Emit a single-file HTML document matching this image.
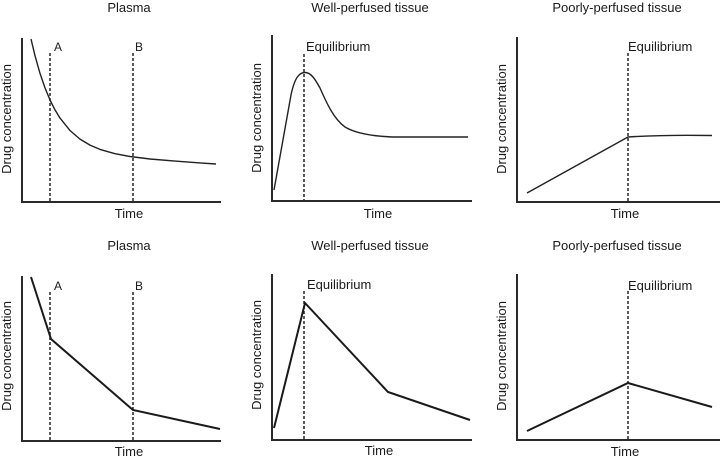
<!DOCTYPE html>
<html><head><meta charset="utf-8"><style>
html,body{margin:0;padding:0;background:#fff;}
svg{display:block;}
text{font-family:"Liberation Sans",Arial,sans-serif;fill:#1a1a1a;}
</style></head><body>
<svg width="720" height="459" viewBox="0 0 720 459" xmlns="http://www.w3.org/2000/svg">
<g font-size="13">
  <!-- Titles -->
  <text x="129" y="12" text-anchor="middle">Plasma</text>
  <text x="370" y="12" text-anchor="middle">Well-perfused tissue</text>
  <text x="617" y="12" text-anchor="middle">Poorly-perfused tissue</text>
  <text x="129" y="250" text-anchor="middle">Plasma</text>
  <text x="370" y="250" text-anchor="middle">Well-perfused tissue</text>
  <text x="617" y="250" text-anchor="middle">Poorly-perfused tissue</text>
  <!-- Time labels -->
  <text x="129" y="218" text-anchor="middle">Time</text>
  <text x="378" y="218" text-anchor="middle">Time</text>
  <text x="625" y="218" text-anchor="middle">Time</text>
  <text x="129" y="456" text-anchor="middle">Time</text>
  <text x="379" y="455" text-anchor="middle">Time</text>
  <text x="625" y="456" text-anchor="middle">Time</text>
  <!-- Y labels -->
  <text transform="translate(11,119) rotate(-90)" text-anchor="middle">Drug concentration</text>
  <text transform="translate(261,118) rotate(-90)" text-anchor="middle">Drug concentration</text>
  <text transform="translate(506,119) rotate(-90)" text-anchor="middle">Drug concentration</text>
  <text transform="translate(11,356) rotate(-90)" text-anchor="middle">Drug concentration</text>
  <text transform="translate(261,355) rotate(-90)" text-anchor="middle">Drug concentration</text>
  <text transform="translate(506,356) rotate(-90)" text-anchor="middle">Drug concentration</text>
  <!-- Equilibrium -->
  <text x="306" y="51">Equilibrium</text>
  <text x="628" y="51">Equilibrium</text>
  <text x="307" y="289">Equilibrium</text>
  <text x="628" y="290">Equilibrium</text>
</g>
<g font-size="12" text-anchor="middle">
  <text x="58" y="51">A</text>
  <text x="139" y="51">B</text>
  <text x="58" y="290">A</text>
  <text x="139" y="290">B</text>
</g>

<!-- Axes -->
<g stroke="#2a2a2a" stroke-width="2" fill="none">
  <path d="M22,38 L22,202 L221,202"/>
  <path d="M272,35 L272,201 L472,201"/>
  <path d="M517,37 L517,202 L720,202"/>
  <path d="M22,276 L22,441 L221,441"/>
  <path d="M272,274 L272,440 L472,440"/>
  <path d="M517,274 L517,440 L720,440"/>
</g>

<!-- Dashed lines -->
<g stroke="#333" stroke-width="1.6" stroke-dasharray="3 2" fill="none">
  <path d="M50,53 L50,202"/>
  <path d="M133,53 L133,202"/>
  <path d="M304,54 L304,201"/>
  <path d="M628,53 L628,202"/>
  <path d="M50,292 L50,441"/>
  <path d="M133,292 L133,441"/>
  <path d="M304,291 L304,440"/>
  <path d="M628,291 L628,440"/>
</g>

<!-- Top curves -->
<g stroke="#222" stroke-width="1.4" fill="none" stroke-linejoin="round">
  <polyline points="31,39 35,55.7 40,73.4 45,87.9 50,100 55,109.9 60,118.1 70,130.5 80,139.1 90,145.1 100,149.4 115,153.7 130,156.5 150,159 175,161.1 200,162.9 216,164"/>
  <path d="M274,190 L291,95 C295,76 300,72.5 305,72.5 C311,72.5 315,79 320,88 C327,104 334,119 345,127 C355,133 370,136 392,137 L468,137"/>
  <path d="M527,193 L628,137 C650,135.5 680,135 712,135.5"/>
</g>

<!-- Bottom lines -->
<g stroke="#1a1a1a" stroke-width="2" fill="none" stroke-linejoin="miter">
  <polyline points="31,277 51,339 133,410 220,429"/>
  <polyline points="274,428 305,303 388,392 470,420"/>
  <polyline points="527,431 628,383 712,407"/>
</g>
</svg>
</body></html>
